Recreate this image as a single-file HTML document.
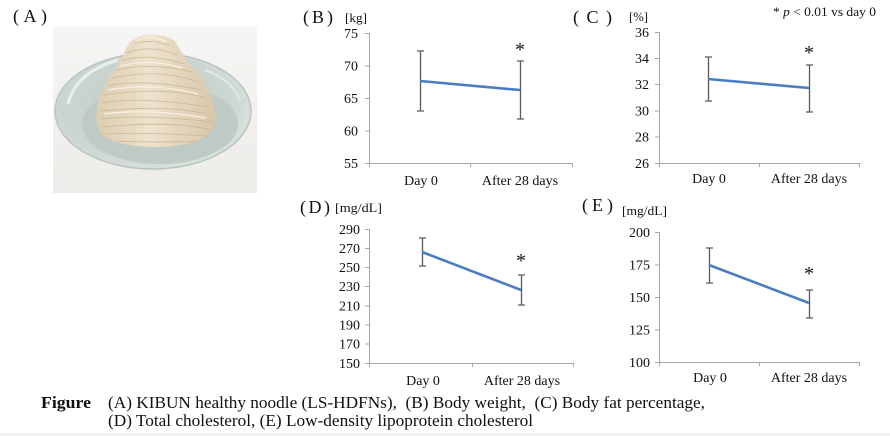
<!DOCTYPE html>
<html><head><meta charset="utf-8"><style>
html,body{margin:0;padding:0;background:#fff;}
svg{display:block;}
text{font-family:"Liberation Serif","Noto Serif CJK JP",serif;fill:#111;}
</style></head><body>
<svg width="890" height="436" viewBox="0 0 890 436" xmlns="http://www.w3.org/2000/svg">
<defs>
<radialGradient id="plate" cx="0.45" cy="0.45" r="0.6">
<stop offset="0" stop-color="#c3cdc7"/><stop offset="0.75" stop-color="#ccd6d0"/><stop offset="1" stop-color="#dde4df"/>
</radialGradient>
<linearGradient id="bg" x1="0" y1="0" x2="0" y2="1">
<stop offset="0" stop-color="#f5f5f3"/><stop offset="1" stop-color="#edece9"/>
</linearGradient>
<linearGradient id="nood" x1="0" y1="0" x2="1" y2="0">
<stop offset="0" stop-color="#dccdb1"/><stop offset="0.45" stop-color="#eee2cd"/><stop offset="1" stop-color="#d8c7aa"/>
</linearGradient>
</defs>
<rect x="0" y="0" width="890" height="436" fill="#fff"/>
<rect x="0" y="433" width="890" height="3" fill="#f2f2f2"/>

<!-- (A) photo -->
<text x="13" y="22" font-size="18" textLength="34">(A)</text>
<rect x="53" y="27" width="204" height="166" fill="url(#bg)"/>
<ellipse cx="153" cy="111" rx="98" ry="58" fill="url(#plate)"/>
<ellipse cx="153" cy="111" rx="98" ry="58" fill="none" stroke="#b9c4be" stroke-width="1.5"/>
<ellipse cx="160" cy="124" rx="78" ry="40" fill="#c0cac4"/>
<path d="M68,104 Q76,72 118,60" stroke="#e8eeea" stroke-width="3" fill="none"/>
<path d="M205,70 Q232,80 240,100" stroke="#e2e9e5" stroke-width="2" fill="none"/>
<path d="M130,42 Q150,28 174,40 Q182,52 188,64 Q202,74 206,88 Q218,106 214,126 Q204,146 158,147 Q112,147 100,132 Q92,112 102,92 Q108,76 118,66 Q124,52 130,42 Z" fill="url(#nood)"/>
<g fill="none" stroke="#c9b491" stroke-width="0.9" opacity="0.8">
<path d="M134,44 Q152,38 170,46"/><path d="M127,53 Q150,44 178,55"/><path d="M122,61 Q145,52 185,64"/>
<path d="M116,70 Q150,62 192,72"/><path d="M112,78 Q160,68 198,82"/><path d="M108,86 Q140,78 202,90"/>
<path d="M104,95 Q165,86 206,98"/><path d="M102,103 Q140,96 209,107"/><path d="M101,111 Q170,104 211,115"/>
<path d="M101,119 Q140,114 213,122"/><path d="M102,127 Q170,120 212,130"/><path d="M106,134 Q140,132 208,136"/>
<path d="M116,141 Q158,143 198,141"/>
</g>
<g fill="none" stroke="#f7f0e3" stroke-width="1.2">
<path d="M138,40 Q152,34 166,42"/><path d="M120,66 Q150,58 182,68"/><path d="M108,90 Q150,82 198,94"/><path d="M104,114 Q150,108 206,118"/>
</g>

<!-- footnote -->
<text x="773" y="16" font-size="13" textLength="103" lengthAdjust="spacingAndGlyphs"><tspan>* </tspan><tspan font-style="italic">p</tspan><tspan> &lt; 0.01 vs day 0</tspan></text>

<!-- (B) -->
<text x="303" y="23" font-size="18" textLength="30">(B)</text>
<text x="345" y="22" font-size="13" textLength="22" lengthAdjust="spacingAndGlyphs">[kg]</text>
<g stroke="#a6a6a6" stroke-width="1" fill="none">
<path d="M369.5,33 V163.5 H572"/>
<path d="M365,33.5 H369 M365,66 H369 M365,98.5 H369 M365,131 H369 M365,163.5 H369"/>
<path d="M369.5,163 V167 M470.5,163 V167 M572.5,163 V167"/>
</g>
<g font-size="14" text-anchor="end">
<text x="358" y="38">75</text><text x="358" y="70.5">70</text><text x="358" y="103">65</text><text x="358" y="135.5">60</text><text x="358" y="168">55</text>
</g>
<g font-size="14" text-anchor="middle">
<text x="421" y="185">Day 0</text><text x="520" y="185">After 28 days</text>
</g>
<g stroke="#5a5a5a" stroke-width="1.3" fill="none">
<path d="M420.5,51 V111 M417,51 H424 M417,111 H424"/>
<path d="M520.5,61 V119 M517,61 H524 M517,119 H524"/>
</g>
<path d="M420,81 L520,90" stroke="#4a7cc2" stroke-width="2.6" fill="none"/>
<text x="520" y="56" font-size="20" text-anchor="middle">*</text>

<!-- (C) -->
<text x="573" y="23" font-size="18" textLength="39">(C)</text>
<text x="629" y="21" font-size="13" textLength="19" lengthAdjust="spacingAndGlyphs">[%]</text>
<g stroke="#a6a6a6" stroke-width="1" fill="none">
<path d="M659.5,32 V163.5 H859"/>
<path d="M655,32.5 H659 M655,58.5 H659 M655,84.5 H659 M655,111 H659 M655,137 H659 M655,163.5 H659"/>
<path d="M659.5,163 V167 M759.5,163 V167 M859.5,163 V167"/>
</g>
<g font-size="14" text-anchor="end">
<text x="649" y="37">36</text><text x="649" y="63">34</text><text x="649" y="89">32</text><text x="649" y="115.5">30</text><text x="649" y="141.5">28</text><text x="649" y="168">26</text>
</g>
<g font-size="14" text-anchor="middle">
<text x="709" y="183">Day 0</text><text x="809" y="183">After 28 days</text>
</g>
<g stroke="#5a5a5a" stroke-width="1.3" fill="none">
<path d="M708.5,57 V101 M705,57 H712 M705,101 H712"/>
<path d="M809.5,65 V112 M806,65 H813 M806,112 H813"/>
</g>
<path d="M708,79 L809,88" stroke="#4a7cc2" stroke-width="2.6" fill="none"/>
<text x="809" y="59" font-size="20" text-anchor="middle">*</text>

<!-- (D) -->
<text x="300" y="213" font-size="18" textLength="30">(D)</text>
<text x="335" y="212" font-size="13" textLength="47" lengthAdjust="spacingAndGlyphs">[mg/dL]</text>
<g stroke="#a6a6a6" stroke-width="1" fill="none">
<path d="M369.5,229 V363.5 H573"/>
<path d="M365,229.5 H369 M365,248.5 H369 M365,267.5 H369 M365,286.5 H369 M365,306 H369 M365,325 H369 M365,344 H369 M365,363.5 H369"/>
<path d="M369.5,363 V367 M472.5,363 V367 M573.5,363 V367"/>
</g>
<g font-size="14" text-anchor="end">
<text x="360" y="234">290</text><text x="360" y="253">270</text><text x="360" y="272">250</text><text x="360" y="291">230</text><text x="360" y="310.5">210</text><text x="360" y="329.5">190</text><text x="360" y="348.5">170</text><text x="360" y="368">150</text>
</g>
<g font-size="14" text-anchor="middle">
<text x="423" y="385">Day 0</text><text x="522" y="385">After 28 days</text>
</g>
<g stroke="#5a5a5a" stroke-width="1.3" fill="none">
<path d="M422.5,238 V266 M419,238 H426 M419,266 H426"/>
<path d="M521.5,275 V305 M518,275 H525 M518,305 H525"/>
</g>
<path d="M422,252 L521,290" stroke="#4a7cc2" stroke-width="2.6" fill="none"/>
<text x="521" y="267" font-size="20" text-anchor="middle">*</text>

<!-- (E) -->
<text x="582" y="211" font-size="18" textLength="31">(E)</text>
<text x="622" y="215" font-size="13" textLength="45" lengthAdjust="spacingAndGlyphs">[mg/dL]</text>
<g stroke="#a6a6a6" stroke-width="1" fill="none">
<path d="M659.5,232 V362.5 H859"/>
<path d="M655,232.5 H659 M655,265 H659 M655,297.5 H659 M655,330 H659 M655,362.5 H659"/>
<path d="M659.5,362 V366 M759.5,362 V366 M859.5,362 V366"/>
</g>
<g font-size="14" text-anchor="end">
<text x="650" y="237">200</text><text x="650" y="269.5">175</text><text x="650" y="302">150</text><text x="650" y="334.5">125</text><text x="650" y="367">100</text>
</g>
<g font-size="14" text-anchor="middle">
<text x="710" y="382">Day 0</text><text x="809" y="382">After 28 days</text>
</g>
<g stroke="#5a5a5a" stroke-width="1.3" fill="none">
<path d="M709.5,248 V283 M706,248 H713 M706,283 H713"/>
<path d="M809.5,290 V318 M806,290 H813 M806,318 H813"/>
</g>
<path d="M709,265 L809,303" stroke="#4a7cc2" stroke-width="2.6" fill="none"/>
<text x="809" y="280" font-size="20" text-anchor="middle">*</text>

<!-- caption -->
<text x="41" y="408" font-size="17" font-weight="bold" textLength="50" lengthAdjust="spacingAndGlyphs">Figure</text>
<text x="108" y="408" font-size="17" textLength="597" lengthAdjust="spacingAndGlyphs" xml:space="preserve">(A) KIBUN healthy noodle (LS-HDFNs),  (B) Body weight,  (C) Body fat percentage,</text>
<text x="108" y="426" font-size="17" textLength="425" lengthAdjust="spacingAndGlyphs">(D) Total cholesterol, (E) Low-density lipoprotein cholesterol</text>
</svg>
</body></html>
